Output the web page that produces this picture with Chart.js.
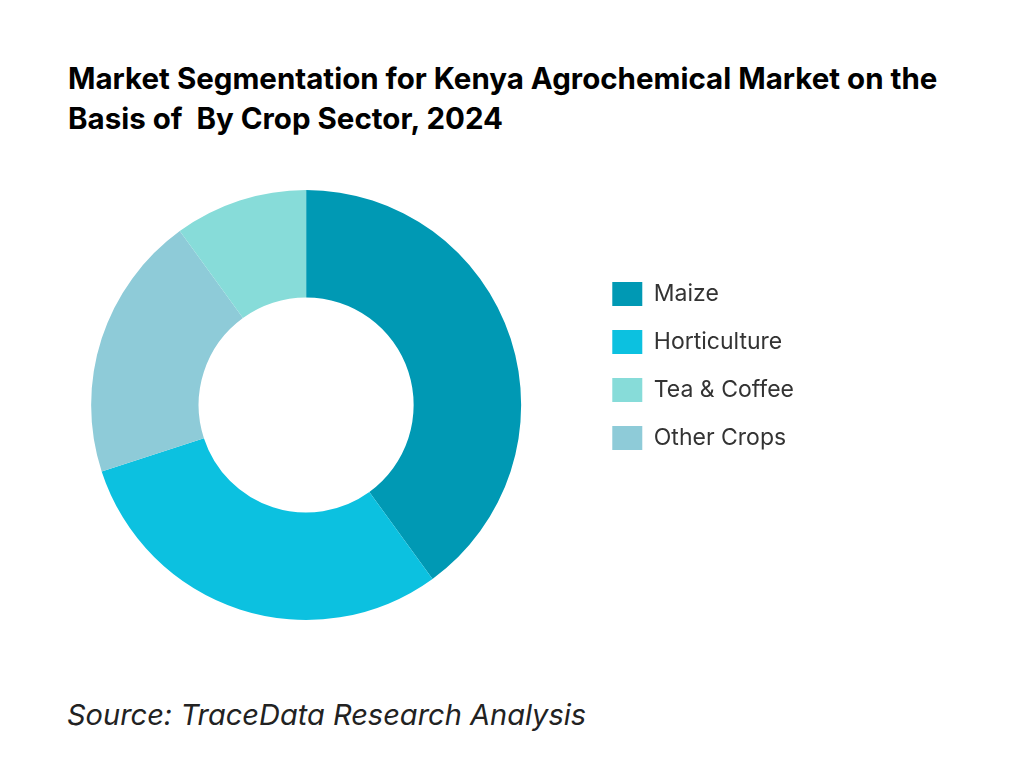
<!DOCTYPE html>
<html><head><meta charset="utf-8">
<script src="https://cdn.jsdelivr.net/npm/chart.js@4"></script>
<style>
body{margin:0;width:1024px;height:768px;background:#fff;font-family:Inter,sans-serif;position:relative;overflow:hidden}
#t{position:absolute;left:68px;top:58px;font-size:29.5px;font-weight:700;line-height:40px;color:#000}
#s{position:absolute;left:67px;top:697px;font-size:29px;font-style:italic;color:#222}
#c{position:absolute;left:24px;top:180px;width:780px;height:450px}
</style></head><body>
<div id="t">Market Segmentation for Kenya Agrochemical Market on the<br>Basis of &nbsp;By Crop Sector, 2024</div>
<div id="c"><canvas id="cv"></canvas></div>
<div id="s">Source: TraceData Research Analysis</div>
<script>
const categories=['Maize','Horticulture','Other Crops','Tea & Coffee'];
const values=[40,30,20,10];
const colors=['#0099B4','#0CC1E0','#8ECBD8','#87DCD9'];
const legendOrder=['Maize','Horticulture','Tea & Coffee','Other Crops'];
new Chart(document.getElementById('cv'),{type:'doughnut',
data:{labels:categories,datasets:[{data:values,backgroundColor:colors,borderWidth:0}]},
options:{responsive:true,maintainAspectRatio:false,animation:false,cutout:'50%',
layout:{padding:{top:10,bottom:10}},
plugins:{tooltip:{enabled:false},
legend:{position:'right',align:'start',
title:{display:true,text:' ',font:{size:10},padding:{top:56,bottom:0}},
labels:{boxWidth:30,boxHeight:24,padding:24,color:'#333',font:{family:'Inter',size:23},
sort:(a,b)=>legendOrder.indexOf(a.text)-legendOrder.indexOf(b.text)}}}}});
</script></body></html>
